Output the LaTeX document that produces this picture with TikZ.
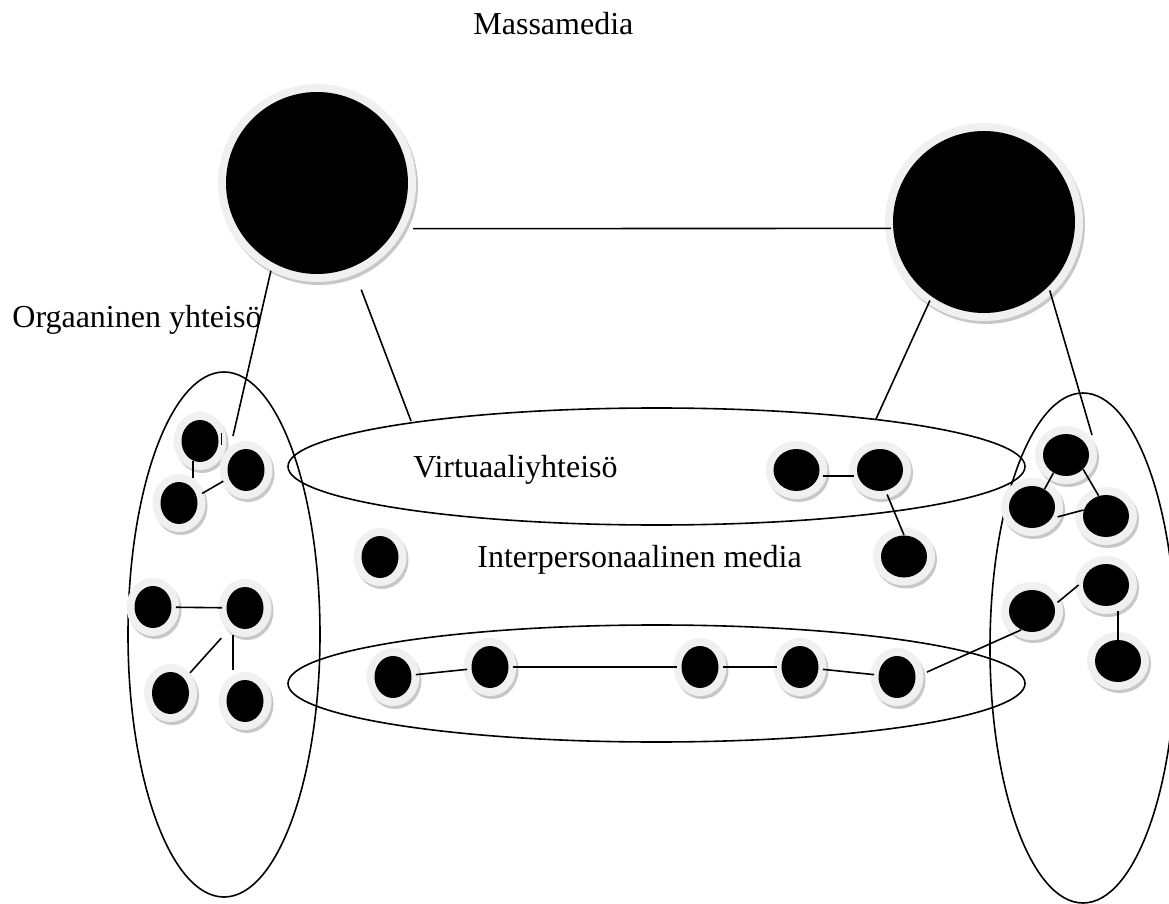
\documentclass[tikz,border=0pt]{standalone}
\usepackage{fontspec}
\setmainfont{Liberation Serif}
\usetikzlibrary{shapes.geometric}
\begin{document}
\begin{tikzpicture}[x=0.5pt, y=-0.5pt,
  halo/.style={preaction={draw=black!22, line width=8pt, transform canvas={xshift=1pt, yshift=-1.5pt}},
               preaction={draw=gray!12, line width=8pt}},
  ndot/.style={ellipse, fill=black, inner sep=0pt, minimum width=18.5pt, minimum height=21pt, halo},
  wdot/.style={ellipse, fill=black, inner sep=0pt, minimum width=23pt, minimum height=21pt, halo},
  bigdot/.style={circle, fill=black, inner sep=0pt, minimum size=91pt, halo},
  region/.style={ellipse, draw=black, line width=0.8pt, inner sep=0pt},
  lbl/.style={font=\fontsize{16pt}{19pt}\selectfont, inner sep=0pt, anchor=base west},
  conn/.style={line width=0.8pt}
]
\useasboundingbox (0,0) rectangle (1169,904);
\clip (0,0) rectangle (1169,904);

% region outlines
\node[region, minimum width=96pt, minimum height=262.5pt] (OL) at (224,634.5) {};
\node[region, minimum width=93pt, minimum height=255pt] (OR) at (1083,648) {};
\node[region, minimum width=368.5pt, minimum height=58.5pt] (V) at (656.5,466.5) {};
\node[region, minimum width=368.5pt, minimum height=58.5pt] (W) at (656.5,683.5) {};

% big circles
\node[bigdot] (L) at (317,183) {};
\node[bigdot] (R) at (984,222) {};

% left community
\node[ndot] (d1) at (200,441) {};
\node[ndot] (d2) at (246,470) {};
\node[ndot] (d3) at (179,503) {};
\node[ndot] (d4) at (153,607) {};
\node[ndot] (d5) at (245,608) {};
\node[ndot] (d6) at (170.5,693) {};
\node[ndot] (d7) at (245,701) {};

% middle
\node[ndot] (m1) at (380,557) {};
\node[wdot] (A) at (796.5,470) {};
\node[wdot] (B) at (880,470) {};
\node[wdot] (C) at (904,556.5) {};

\node[ndot] (l1) at (393,677) {};
\node[ndot] (l2) at (490,667) {};
\node[ndot] (l3) at (700,667) {};
\node[ndot] (l4) at (800,667) {};
\node[ndot] (l5) at (897,677) {};

% right community
\node[wdot] (D1) at (1066,455) {};
\node[wdot] (D2) at (1032,507) {};
\node[wdot] (D3) at (1106,516) {};
\node[wdot] (D4) at (1106,585) {};
\node[wdot] (D5) at (1032,611) {};
\node[wdot] (D6) at (1118,661) {};

% free ends
\coordinate (o1) at (233,436);
\coordinate (vL) at (411,421);
\coordinate (vR) at (876,419);
\coordinate (rR) at (1092,435);

% connectors
\begin{scope}[conn]
\draw[shorten <=4pt] (L.241) -- (o1);
\draw[shorten <=12pt] (L.-67) -- (vL);
\draw[shorten <=8.5pt, shorten >=1pt] (L.-30) -- (R.184);
\draw[shorten <=2pt] (R.235) -- (vR);
\draw[shorten <=2pt] (R.-45) -- (rR);

\draw ([shift={(2.5,-8)}]d1.east) -- ++(0,12);
\draw[shorten >=2pt] (d1.250) -- (d1.250 |- d3.north);
\draw[shorten <=3pt, shorten >=3pt] (d2.205) -- (d3.20);
\draw[shorten <=2pt, shorten >=2pt] (d4) -- (d5);
\draw[shorten <=9pt, shorten >=4pt] (d5.235) -- (d6.45);
\draw[shorten <=3pt, shorten >=5pt] ([xshift=-6pt]d5.south) -- ([xshift=-6pt]d7.north);

\draw[shorten <=2pt, shorten >=2pt] (A.-15) -- (B.195);
\draw[shorten <=2pt] (B.-75) -- (C.north);

\draw[shorten <=2pt, shorten >=2pt] (l1) -- (l2);
\draw[shorten <=2pt, shorten >=2pt] (l2) -- (l3);
\draw[shorten <=2pt, shorten >=2pt] (l3) -- (l4);
\draw[shorten <=2pt, shorten >=2pt] (l4) -- (l5);
\draw[shorten <=6pt] (l5.east) -- (D5.-120);

\draw (D1.235) -- (D2.55);
\draw (D1.-40) -- (D3.110);
\draw[shorten <=3pt] (D2.-30) -- (D3.165);
\draw[shorten >=2pt] ([xshift=-2pt]D4.west) -- (D5.15);
\draw[shorten <=2.5pt] (D6.north |- D4.south) -- (D6.north);
\end{scope}

% labels
\node[lbl] (tMass) at (473,35) {Massamedia};
\node[lbl] (tOrg) at (12,328) {Orgaaninen yhteisö};
\node[lbl] (tVirt) at (413,477) {Virtuaaliyhteisö};
\node[lbl] (tInt) at (477,567) {Interpersonaalinen media};
\end{tikzpicture}
\end{document}
